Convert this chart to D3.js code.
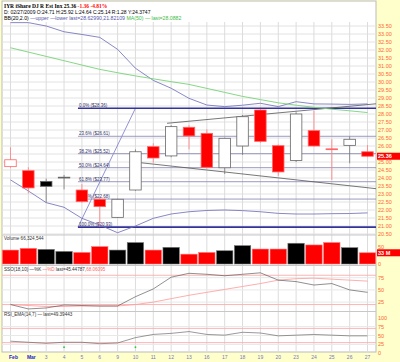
<html>
<head>
<style>
  body { margin: 0; background: #ffffcc; }
  svg text { font-family: "Liberation Sans", Arial, sans-serif; }
</style>
</head>
<body>
<svg class="chart" width="400" height="362"></svg>
<script src="https://cdn.jsdelivr.net/npm/d3@7"></script>
<script>
// ---- data ----
var dates  = ["Feb","Mar","3","4","5","6","9","10","11","12","13","16","17","18","19","20","23","24","25","26","27"];
var opens  = [24.71,24.46,23.79,24.02,23.25,22.67,21.54,23.25,25.96,25.38,27.17,26.79,24.64,26.00,28.25,26.02,25.10,26.96,25.82,26.04,25.64];
var highs  = [25.92,24.67,23.96,24.19,23.62,22.80,22.70,25.79,26.17,27.30,27.30,27.04,26.52,27.94,28.30,26.10,28.10,28.20,26.42,26.60,26.06];
var lows   = [24.64,23.04,22.46,23.29,22.45,20.96,21.50,23.20,24.96,25.30,25.79,24.60,24.25,25.44,26.20,24.13,25.00,25.95,23.88,24.92,25.30];
var closes = [25.14,23.38,23.48,24.05,22.52,22.21,22.67,25.64,25.25,27.21,26.63,24.67,26.48,27.83,26.29,24.38,28.00,26.00,25.78,26.42,25.36];
var prevClose = 25.40;
var volumes = [41,46,43,37,34,51,41,63,41,49,29,34,39,54,44,44,61,56,63,48,33]; // millions
var bbUpper = [33.71,33.71,33.50,33.14,32.97,32.79,32.04,30.86,30.10,29.61,28.98,28.56,28.46,28.55,28.67,28.46,28.77,28.63,28.62,28.60,28.63];
var bbLower = [23.88,23.19,22.46,22.17,21.48,21.06,20.58,21.00,21.48,21.75,21.89,21.97,22.00,21.96,21.89,21.79,21.75,21.75,21.77,21.78,21.82];
var ma50    = [32.14,31.87,31.60,31.33,31.06,30.79,30.58,30.38,30.20,30.02,29.85,29.60,29.35,29.10,28.90,28.70,28.55,28.42,28.30,28.20,28.09];
var stoK = [20,11,13,19,18,17,17,36,52,76,84,82,79,82,85,70,67,60,63,50,45];
var stoD = [20,18,16,16,17,17,17,20,25,32,39,45,51,57,63,70,73,74,72,70,68];
var rsi  = [34,31,28,31,31,27,29,44,53,56,61,53,51,59,57,49,51,53,51,49,49];
var signalIdx = [3, 7];

var priceTicks = [20.5,21,21.5,22,22.5,23,23.5,24,24.5,25,25.5,26,26.5,27,27.5,28,28.5,29,29.5,30,30.5,31,31.5,32,32.5,33,33.5];
var volTicks = [0,25,50];
var oscTicks = [25,50,75];
var rsiTicks = [0,25,50,75,100];

var fibHigh = 28.36, fibLow = 20.93, fibStart = 3.78, fibTop = 7;
var fibLevels = [0,23.6,38.2,50,61.8,76.4,100];
var trendLines = [
  {x1: 8.77, p1: 27.42, x2: 20.5, p2: 28.64},
  {x1: 7.25, p1: 24.96, x2: 20.5, p2: 23.33}
];

// ---- layout ----
var left = 2, right = 376;
var svg = d3.select('.chart');

var x = d3.scaleLinear().domain([0, 20]).range([10.5, 367.5]);
var y = d3.scaleLinear().domain([20.5, 29.5]).range([234, 90]);
var yVol = d3.scaleLinear().domain([0, 50]).range([264, 247]);
var ySto = d3.scaleLinear().domain([0, 100]).range([314.3, 265.5]);
var yRsi = d3.scaleLinear().domain([0, 100]).range([353.3, 317.7]);

svg.append('rect').attr('width', 400).attr('height', 362).style('fill', '#ffffcc');
svg.append('rect').attr('x', left).attr('y', 1).attr('width', right - left).attr('height', 351)
  .style('fill', '#fff').style('stroke', '#bbb');

svg.append('clipPath').attr('id', 'mainclip').append('rect')
  .attr('x', left).attr('y', 21).attr('width', right - left).attr('height', 214);

// grid
svg.append('g').selectAll('line').data(priceTicks).enter().append('line')
  .attr('x1', left).attr('x2', right)
  .attr('y1', function(d) { return y(d); }).attr('y2', function(d) { return y(d); })
  .style('stroke', '#e2e2e2');
svg.append('g').selectAll('line').data(dates).enter().append('line')
  .attr('x1', function(d, i) { return x(i); }).attr('x2', function(d, i) { return x(i); })
  .attr('y1', 22).attr('y2', 352)
  .style('stroke', '#dcdcdc');
[oscTicks.map(ySto), oscTicks.map(yRsi)].forEach(function(arr) {
  svg.append('g').selectAll('line').data(arr).enter().append('line')
    .attr('x1', left).attr('x2', right).attr('y1', function(d) { return d; }).attr('y2', function(d) { return d; })
    .style('stroke', '#e8e8e8');
});

// panel separators
[235, 265.5, 311.5].forEach(function(py) {
  svg.append('line').attr('x1', left).attr('x2', right).attr('y1', py).attr('y2', py).style('stroke', '#c8c8c8');
});

var main = svg.append('g').attr('clip-path', 'url(#mainclip)');

// fib retracement
main.append('line')
  .attr('x1', x(fibStart)).attr('y1', y(fibLow)).attr('x2', x(fibTop)).attr('y2', y(fibHigh))
  .style('stroke', '#7777cc').style('stroke-width', 0.8);
var fib = main.append('g').selectAll('g').data(fibLevels).enter().append('g');
fib.append('line')
  .attr('x1', x(fibStart)).attr('x2', right)
  .attr('y1', function(d) { return y(fibHigh - (fibHigh - fibLow) * d / 100); })
  .attr('y2', function(d) { return y(fibHigh - (fibHigh - fibLow) * d / 100); })
  .style('stroke', function(d) { return (d == 0 || d == 100) ? '#333399' : '#9090b8'; })
  .style('stroke-width', function(d) { return (d == 0 || d == 100) ? 1.6 : 0.9; });
fib.append('text')
  .attr('x', x(fibStart) + 1)
  .attr('y', function(d) { return y(fibHigh - (fibHigh - fibLow) * d / 100) - 1; })
  .text(function(d) { return d.toFixed(1) + '% ($' + (fibHigh - (fibHigh - fibLow) * d / 100).toFixed(2) + ')'; })
  .style('font-size', '4.5px').style('fill', '#333366');

// trend channel
main.append('g').selectAll('line').data(trendLines).enter().append('line')
  .attr('x1', function(d) { return x(d.x1); }).attr('y1', function(d) { return y(d.p1); })
  .attr('x2', function(d) { return x(d.x2); }).attr('y2', function(d) { return y(d.p2); })
  .style('stroke', '#555').style('stroke-width', 0.8);

// bollinger + MA
var priceLine = d3.line().x(function(d, i) { return x(i); }).y(function(d) { return y(d); });
main.append('path').attr('d', priceLine(bbUpper)).style('fill', 'none').style('stroke', '#6a6ab8').style('stroke-width', 0.8);
main.append('path').attr('d', priceLine(bbLower)).style('fill', 'none').style('stroke', '#6a6ab8').style('stroke-width', 0.8);
main.append('path').attr('d', priceLine(ma50)).style('fill', 'none').style('stroke', '#77d477').style('stroke-width', 0.9);

// candles
var candles = dates.map(function(d, i) {
  var prev = i == 0 ? prevClose : closes[i - 1];
  return {i: i, o: opens[i], h: highs[i], l: lows[i], c: closes[i], down: closes[i] < prev, filled: closes[i] < opens[i]};
});
var cw = 11.5;
var cg = main.append('g').selectAll('g').data(candles).enter().append('g');
cg.append('line')
  .attr('x1', function(d) { return x(d.i); }).attr('x2', function(d) { return x(d.i); })
  .attr('y1', function(d) { return y(d.h); }).attr('y2', function(d) { return y(d.l); })
  .style('stroke', function(d) { return d.down ? '#ff8080' : '#777'; }).style('stroke-width', 0.8);
cg.append('rect')
  .attr('x', function(d) { return x(d.i) - cw / 2; })
  .attr('width', cw)
  .attr('y', function(d) { return y(Math.max(d.o, d.c)); })
  .attr('height', function(d) { return Math.max(0.8, Math.abs(y(d.o) - y(d.c))); })
  .style('fill', function(d) { return d.filled ? (d.down ? '#ff0000' : '#000') : '#fff'; })
  .style('stroke', function(d) { return d.down ? '#ff6666' : '#666'; })
  .style('stroke-width', 0.8);

// right price axis (labels under the last-value box are hidden, as in the original)
var last = closes[closes.length - 1];
svg.append('g').selectAll('text')
  .data(priceTicks.filter(function(d) { return Math.abs(y(d) - y(last)) > 5; }))
  .enter().append('text')
  .attr('x', 378).attr('y', function(d) { return y(d) + 2; })
  .text(function(d) { return d.toFixed(2); })
  .style('font-size', '5.5px').style('fill', '#ff6633');
svg.append('rect').attr('x', 377).attr('y', y(last) - 3.5).attr('width', 23).attr('height', 7).style('fill', '#ff0000');
svg.append('text').attr('x', 378).attr('y', y(last) + 2).text(last.toFixed(2))
  .style('font-size', '5.5px').style('fill', '#fff').style('font-weight', 'bold');

// titles
svg.append('text').attr('x', 4).attr('y', 7.5)
  .style('font-size', '5.5px').style('font-family', '"Liberation Serif", serif').style('font-weight', 'bold')
  .call(function(t) {
    t.append('tspan').text('IYR iShare DJ R Est Inx  25.36  ');
    t.append('tspan').text('-1.36  -4.81%').style('fill', '#ff0000');
  });
svg.append('text').attr('x', 4).attr('y', 13.5).style('font-size', '5px')
  .text('D: 02/27/2009 O:24.71 H:25.92 L:24.64 C:25.14 R:1.28 Y:24.3747');
svg.append('text').attr('x', 4).attr('y', 19.5).style('font-size', '5.2px')
  .call(function(t) {
    t.append('tspan').text('BB(20,2.0) ');
    t.append('tspan').text('\u2014upper \u2014lower last=28.62990,21.82109 ').style('fill', '#5555aa');
    t.append('tspan').text('MA(50) \u2014 last=28.0882').style('fill', '#44bb44');
  });

// volume
svg.append('text').attr('x', 4).attr('y', 240).style('font-size', '4.6px').style('fill', '#333')
  .text('Volume 66,324,544');
svg.append('g').selectAll('rect').data(volumes).enter().append('rect')
  .attr('x', function(d, i) { return x(i) - 8.2; })
  .attr('width', 16.4)
  .attr('y', function(d) { return yVol(d); })
  .attr('height', function(d) { return yVol(0) - yVol(d); })
  .style('fill', function(d, i) { return candles[i].down ? '#ff0000' : '#000'; })
  .style('stroke', function(d, i) { return candles[i].down ? '#ff7777' : '#777'; })
  .style('stroke-width', 0.6);
var lastVol = volumes[volumes.length - 1];
svg.append('g').selectAll('text')
  .data(volTicks.filter(function(d) { return Math.abs(yVol(d) - yVol(lastVol)) > 5; }))
  .enter().append('text')
  .attr('x', 378).attr('y', function(d) { return yVol(d) + 2; })
  .text(function(d) { return d; })
  .style('font-size', '5.5px').style('fill', '#ff6633');
svg.append('rect').attr('x', 377).attr('y', yVol(lastVol) - 3.5).attr('width', 23).attr('height', 7).style('fill', '#ff0000');
svg.append('text').attr('x', 378).attr('y', yVol(lastVol) + 2).text(lastVol + ' M')
  .style('font-size', '5.5px').style('fill', '#fff').style('font-weight', 'bold');

// slow stochastic
svg.append('text').attr('x', 4).attr('y', 271).style('font-size', '4.6px').style('fill', '#333')
  .call(function(t) {
    t.append('tspan').text('SSO(18,10) \u2014%K ');
    t.append('tspan').text('\u2014%D ').style('fill', '#ff6666');
    t.append('tspan').text('last=45.44787,');
    t.append('tspan').text('68.06095').style('fill', '#ff6666');
  });
[20, 80].forEach(function(v) {
  svg.append('line').attr('x1', left).attr('x2', right).attr('y1', ySto(v)).attr('y2', ySto(v))
    .style('stroke', '#ffaaaa').style('stroke-width', 0.9);
});
var stoLine = d3.line().x(function(d, i) { return x(i); }).y(function(d) { return ySto(d); });
svg.append('path').attr('d', stoLine(stoD)).style('fill', 'none').style('stroke', '#ff9999').style('stroke-width', 0.8);
svg.append('path').attr('d', stoLine(stoK)).style('fill', 'none').style('stroke', '#444').style('stroke-width', 0.7).style('opacity', 0.85);
svg.append('g').selectAll('text').data(oscTicks).enter().append('text')
  .attr('x', 378).attr('y', function(d) { return ySto(d) + 2; })
  .text(function(d) { return d; })
  .style('font-size', '5.5px').style('fill', '#ff6633');

// RSI
svg.append('text').attr('x', 4).attr('y', 315.5).style('font-size', '4.6px').style('fill', '#333')
  .text('RSI_EMA(14,7) \u2014 last=49.39443');
[30, 70].forEach(function(v) {
  svg.append('line').attr('x1', left).attr('x2', right).attr('y1', yRsi(v)).attr('y2', yRsi(v))
    .style('stroke', '#ffaaaa').style('stroke-width', 0.9);
});
var rsiLine = d3.line().x(function(d, i) { return x(i); }).y(function(d) { return yRsi(d); });
svg.append('path').attr('d', rsiLine(rsi)).style('fill', 'none').style('stroke', '#555').style('stroke-width', 0.7).style('opacity', 0.85);
svg.append('g').selectAll('rect').data(signalIdx).enter().append('rect')
  .attr('x', function(d) { return x(d) - 0.8; }).attr('y', yRsi(17) - 0.8)
  .attr('width', 1.6).attr('height', 1.6).style('fill', '#22cc22');
svg.append('g').selectAll('text').data(rsiTicks).enter().append('text')
  .attr('x', 378).attr('y', function(d) { return yRsi(d) + 2; })
  .text(function(d) { return d; })
  .style('font-size', '5.5px').style('fill', '#ff6633');

// date axis
svg.append('g').selectAll('text').data(dates).enter().append('text')
  .attr('x', function(d, i) { return x(i) + (i < 2 ? 3 : 0); })
  .attr('y', 359)
  .attr('text-anchor', 'middle')
  .text(function(d) { return d; })
  .style('font-size', '5px')
  .style('fill', function(d, i) { return i < 2 ? '#2222cc' : '#7777bb'; })
  .style('font-weight', function(d, i) { return i < 2 ? 'bold' : 'normal'; });
</script>
</body>
</html>
